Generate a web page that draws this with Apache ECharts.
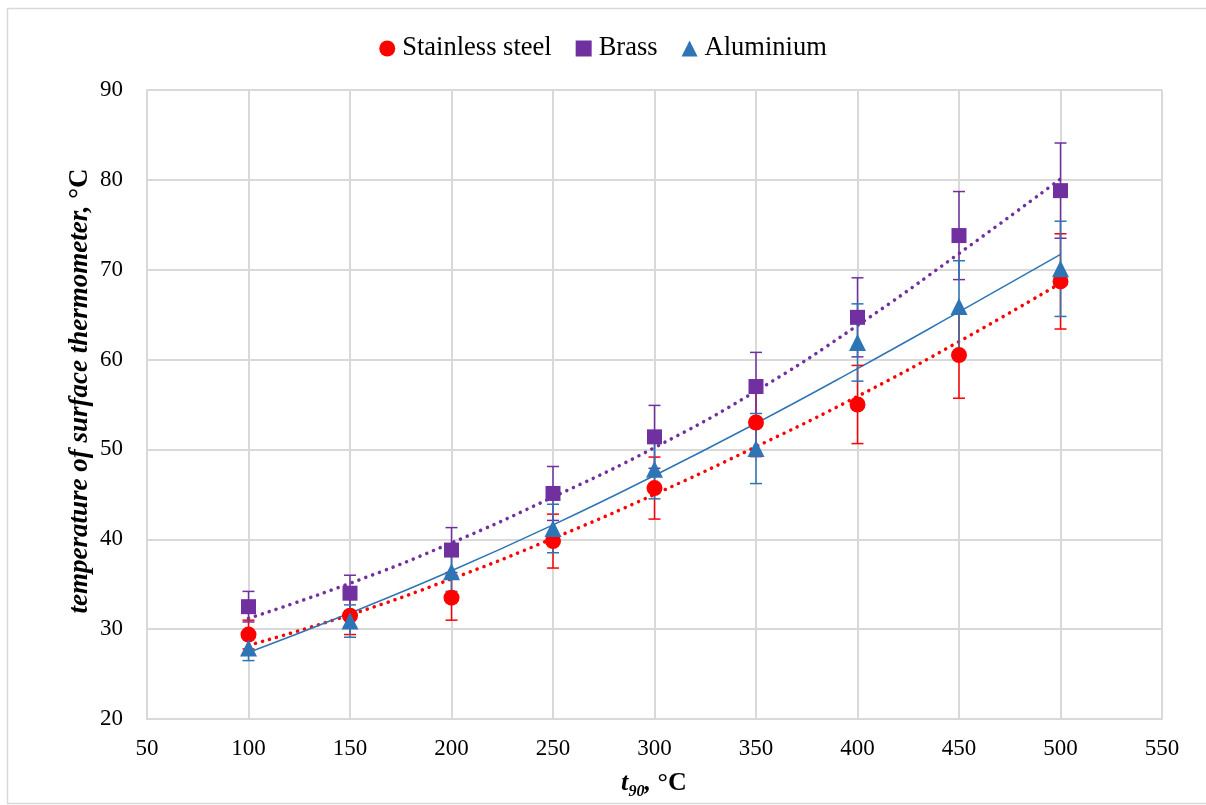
<!DOCTYPE html>
<html>
	<head>
		<meta charset="utf-8">
		<title>surface thermometer</title>
		<script src="https://cdn.jsdelivr.net/npm/echarts@6/dist/echarts.min.js"></script>
		<style type="text/css">
			body { margin: 0; background: #fff; }
		</style>
	</head>
	<body>
		<div id="main" style="width: 1206px;height:805px;"></div>

		<script type="text/javascript">
			// x values (t90, °C)
			var xValues = [100, 150, 200, 250, 300, 350, 400, 450, 500];
			var xTicks = [50, 100, 150, 200, 250, 300, 350, 400, 450, 500, 550];

			// measured values and error half-width
			var steel = [29.4, 31.5, 33.5, 39.8, 45.7, 53.0, 55.0, 60.5, 68.7];
			var steelErr = [1.6, 2.1, 2.5, 3.0, 3.45, 3.8, 4.35, 4.8, 5.3];
			var brass = [32.5, 34.0, 38.8, 45.1, 51.4, 57.0, 64.7, 73.8, 78.8];
			var brassErr = [1.7, 2.0, 2.5, 3.0, 3.5, 3.8, 4.4, 4.9, 5.3];
			var alu = [27.9, 30.9, 36.4, 41.2, 47.8, 50.1, 61.9, 65.9, 70.1];
			var aluErr = [1.4, 1.8, 2.2, 2.7, 3.3, 3.9, 4.3, 5.1, 5.3];

			// trend lines
			var steelTrend = [28.2, 31.6, 35.6, 40.1, 45.0, 50.3, 55.9, 62.0, 68.5];
			var brassTrend = [31.2, 35.1, 39.6, 44.7, 50.2, 56.5, 63.8, 71.8, 80.1];
			var aluTrend = [27.4, 31.8, 36.5, 41.6, 47.1, 52.9, 59.0, 65.3, 71.7];

			var RED = '#ff0000', PURPLE = '#7030a0', BLUE = '#2e75b6';
			var FONT = '"Liberation Serif", "Times New Roman", serif';

			function pairs(ys) {
				var out = [];
				for (var i = 0; i < xValues.length; i++) {
					out.push([xValues[i], ys[i]]);
				}
				return out;
			}

			function errData(ys, errs) {
				var out = [];
				for (var i = 0; i < xValues.length; i++) {
					out.push([xValues[i], ys[i] - errs[i], ys[i] + errs[i]]);
				}
				return out;
			}

			function errSeries(name, ys, errs, color) {
				return {
					name: name,
					type: 'custom',
					z: 3,
					silent: true,
					data: errData(ys, errs),
					renderItem: function(params, api) {
						var lo = api.coord([api.value(0), api.value(1)]);
						var hi = api.coord([api.value(0), api.value(2)]);
						var w = 6;
						var st = { stroke: color, lineWidth: 1.5 };
						return {
							type: 'group',
							children: [
								{ type: 'line', shape: { x1: lo[0], y1: lo[1], x2: hi[0], y2: hi[1] }, style: st },
								{ type: 'line', shape: { x1: lo[0] - w, y1: lo[1], x2: lo[0] + w, y2: lo[1] }, style: st },
								{ type: 'line', shape: { x1: hi[0] - w, y1: hi[1], x2: hi[0] + w, y2: hi[1] }, style: st }
							]
						};
					}
				};
			}

			function trendSeries(name, ys, color, dotted) {
				return {
					name: name,
					type: 'line',
					z: 2,
					silent: true,
					smooth: true,
					showSymbol: false,
					data: pairs(ys),
					lineStyle: dotted ? {
						color: color, width: 3.5, type: [0.1, 7.2], cap: 'round'
					} : {
						color: color, width: 1.5, type: 'solid'
					}
				};
			}

			// axis titles (bold italic, °C upright, subscript on the x title)
			var titleStyle = { fontFamily: FONT, fontWeight: 'bold', fontStyle: 'italic', fill: '#000' };
			var uprightStyle = { fontFamily: FONT, fontWeight: 'bold', fontStyle: 'normal', fill: '#000' };

			var myChart = echarts.init(document.getElementById('main'));

			myChart.setOption({
				animation: false,
				backgroundColor: '#fff',
				graphic: [{
					type: 'rect',
					shape: { x: 7.5, y: 8.5, width: 1210, height: 795 },
					style: { fill: null, stroke: '#d9d9d9', lineWidth: 1.5 },
					silent: true
				}, {
					type: 'text',
					x: 80,
					y: 391,
					rotation: Math.PI / 2,
					silent: true,
					style: {
						text: '{i|temperature of surface thermometer, }{u|°C}',
						align: 'center',
						verticalAlign: 'middle',
						rich: {
							i: echarts.util.extend({ fontSize: 27 }, titleStyle),
							u: echarts.util.extend({ fontSize: 27 }, uprightStyle)
						}
					}
				}, {
					type: 'group',
					x: 621,
					y: 0,
					silent: true,
					children: [{
						type: 'text', x: 0, y: 783,
						style: echarts.util.extend({ text: 't', fontSize: 26, align: 'left', verticalAlign: 'middle' }, titleStyle)
					}, {
						type: 'text', x: 7.5, y: 792,
						style: echarts.util.extend({ text: '90', fontSize: 16, align: 'left', verticalAlign: 'middle' }, titleStyle)
					}, {
						type: 'text', x: 23.5, y: 783,
						style: echarts.util.extend({ text: ', ', fontSize: 26, align: 'left', verticalAlign: 'middle' }, titleStyle)
					}, {
						type: 'text', x: 36.5, y: 783,
						style: echarts.util.extend({ text: '°C', fontSize: 26, align: 'left', verticalAlign: 'middle' }, uprightStyle)
					}]
				}],
				legend: {
					data: ['Stainless steel', 'Brass', 'Aluminium'],
					top: 30,
					left: 'center',
					itemWidth: 16,
					itemHeight: 16,
					itemGap: 24,
					textStyle: { fontFamily: FONT, fontSize: 26.5, color: '#000', padding: [0, 0, 0, 2] }
				},
				grid: { left: 147, right: 44, top: 90, bottom: 86 },
				xAxis: {
					type: 'value',
					min: xTicks[0],
					max: xTicks[xTicks.length - 1],
					interval: 50,
					axisLine: { lineStyle: { color: '#d9d9d9', width: 2 } },
					axisTick: { show: false },
					splitLine: { show: true, lineStyle: { color: '#d9d9d9', width: 2 } },
					axisLabel: { fontFamily: FONT, fontSize: 23, color: '#000', margin: 18 }
				},
				yAxis: {
					type: 'value',
					min: 20,
					max: 90,
					interval: 10,
					axisLine: { show: true, lineStyle: { color: '#d9d9d9', width: 2 } },
					axisTick: { show: false },
					splitLine: { show: true, lineStyle: { color: '#d9d9d9', width: 2 } },
					axisLabel: { fontFamily: FONT, fontSize: 23, color: '#000', margin: 24 }
				},
				series: [
					trendSeries('steel trend', steelTrend, RED, true),
					trendSeries('brass trend', brassTrend, PURPLE, true),
					trendSeries('alu trend', aluTrend, BLUE, false),
					errSeries('steel err', steel, steelErr, RED),
					errSeries('brass err', brass, brassErr, PURPLE),
					errSeries('alu err', alu, aluErr, BLUE),
					{
						name: 'Stainless steel',
						type: 'scatter',
						z: 4,
						symbol: 'circle',
						symbolSize: 16,
						itemStyle: { color: RED, opacity: 1 },
						data: pairs(steel)
					},
					{
						name: 'Brass',
						type: 'scatter',
						z: 4,
						symbol: 'rect',
						symbolSize: 15,
						itemStyle: { color: PURPLE, opacity: 1 },
						data: pairs(brass)
					},
					{
						name: 'Aluminium',
						type: 'scatter',
						z: 4,
						symbol: 'triangle',
						symbolSize: 17,
						itemStyle: { color: BLUE, opacity: 1 },
						data: pairs(alu)
					}
				]
			});
		</script>
	</body>
</html>
